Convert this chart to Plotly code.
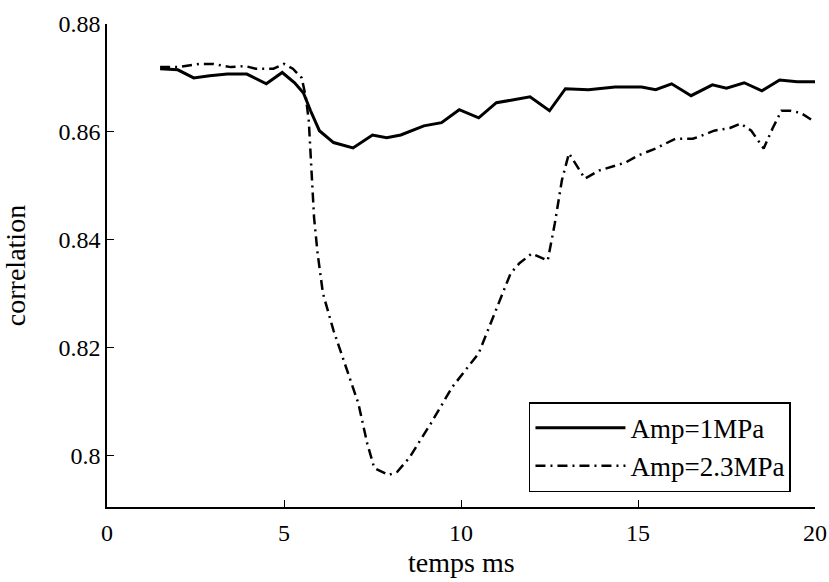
import plotly.graph_objects as go

# Amp = 1 MPa (solid)
t_1mpa = [1.5, 2.0, 2.45, 2.9, 3.4, 3.95, 4.5, 4.95, 5.3, 5.55, 5.75, 6.0, 6.4, 6.95,
          7.5, 7.9, 8.3, 8.95, 9.45, 9.95, 10.5, 11.0, 11.45, 11.95, 12.5, 12.95,
          13.6, 14.35, 15.1, 15.5, 15.95, 16.5, 17.1, 17.5, 18.0, 18.5, 19.0, 19.5, 20.0]
corr_1mpa = [0.8717, 0.8715, 0.8700, 0.8704, 0.8707, 0.8707, 0.8689, 0.8710, 0.8691,
             0.8672, 0.8639, 0.8602, 0.8580, 0.8570, 0.8594, 0.8589, 0.8594, 0.8611,
             0.8617, 0.8641, 0.8626, 0.8654, 0.8659, 0.8665, 0.8639, 0.8680, 0.8678,
             0.8683, 0.8683, 0.8678, 0.8689, 0.8667, 0.8687, 0.8681, 0.8691, 0.8676,
             0.8696, 0.8693, 0.8693]

# Amp = 2.3 MPa (dash-dot)
t_23mpa = [1.5, 2.0, 2.6, 3.0, 3.5, 3.9, 4.2, 4.7, 5.0, 5.25, 5.5, 5.62, 5.7, 5.78,
           5.85, 5.95, 6.1, 6.4, 6.75, 7.1, 7.35, 7.55, 7.95, 8.2, 8.55, 9.15, 9.75,
           10.5, 10.95, 11.4, 11.65, 12.0, 12.45, 12.65, 12.85, 13.05, 13.5, 13.9,
           14.35, 14.65, 15.0, 15.5, 16.05, 16.55, 16.8, 17.15, 17.6, 17.9, 18.2,
           18.55, 18.8, 19.05, 19.3, 19.6, 20.0]
corr_23mpa = [0.8720, 0.8720, 0.8726, 0.8726, 0.8720, 0.8722, 0.8717, 0.8717, 0.8726,
              0.8717, 0.8700, 0.8663, 0.8620, 0.8510, 0.8440, 0.8374, 0.8300, 0.8231,
              0.8163, 0.8096, 0.8022, 0.7976, 0.7963, 0.7969, 0.7996, 0.8059, 0.8126,
              0.8189, 0.8263, 0.8337, 0.8356, 0.8374, 0.8361, 0.8430, 0.8510, 0.8560,
              0.8513, 0.8528, 0.8537, 0.8543, 0.8556, 0.8569, 0.8587, 0.8587, 0.8593,
              0.8602, 0.8607, 0.8615, 0.8602, 0.8569, 0.8606, 0.8639, 0.8639, 0.8635,
              0.8618]

x_ticks = [0, 5, 10, 15, 20]
y_ticks = [0.8, 0.82, 0.84, 0.86, 0.88]
y_tick_labels = ["0.8", "0.82", "0.84", "0.86", "0.88"]
x_title = "temps ms"
y_title = "correlation"

FONT = "Liberation Serif"

fig = go.Figure()
fig.add_trace(go.Scatter(x=t_1mpa, y=corr_1mpa, mode="lines", name="Amp=1MPa",
                         line=dict(color="black", width=3)))
fig.add_trace(go.Scatter(x=t_23mpa, y=corr_23mpa, mode="lines", name="Amp=2.3MPa",
                         line=dict(color="black", width=2.5, dash="10px,5px,2px,5px")))

fig.update_layout(
    width=829, height=582,
    margin=dict(l=107, r=14, t=24, b=75, autoexpand=False),
    paper_bgcolor="white", plot_bgcolor="white",
    font=dict(family=FONT, color="black", size=24),
    showlegend=True,
    legend=dict(x=0.596, y=0.217, xanchor="left", yanchor="top",
                bordercolor="black", borderwidth=1.5, bgcolor="white",
                font=dict(family=FONT, size=27), itemwidth=90,
                tracegroupgap=0),
)
fig.add_annotation(text=x_title, xref="paper", yref="paper", x=0.5, y=-0.079,
                   xanchor="center", yanchor="top", showarrow=False,
                   font=dict(family=FONT, size=28, color="black"))
fig.update_xaxes(range=[0, 20], tickvals=x_ticks, ticks="inside", ticklen=7,
                 tickwidth=1, tickcolor="black", showline=True, linecolor="black",
                 linewidth=1.5, showgrid=False, zeroline=False, mirror=False,
                 automargin=False, ticklabelstandoff=3,
                 tickfont=dict(family=FONT, size=24))
fig.update_yaxes(range=[0.79037, 0.88], tickvals=y_ticks, ticktext=y_tick_labels,
                 ticks="inside", ticklen=7, tickwidth=1, tickcolor="black",
                 showline=True, linecolor="black", linewidth=1.5, showgrid=False,
                 zeroline=False, mirror=False, automargin=False,
                 title=dict(text=y_title, font=dict(family=FONT, size=28), standoff=29),
                 tickfont=dict(family=FONT, size=24))

# remove the default 8px page margin so the figure fills the 829x582 window exactly
fig.write_html("out.html", config={"displayModeBar": False},
               post_script="document.body.style.margin='0';document.body.style.overflow='hidden';")
